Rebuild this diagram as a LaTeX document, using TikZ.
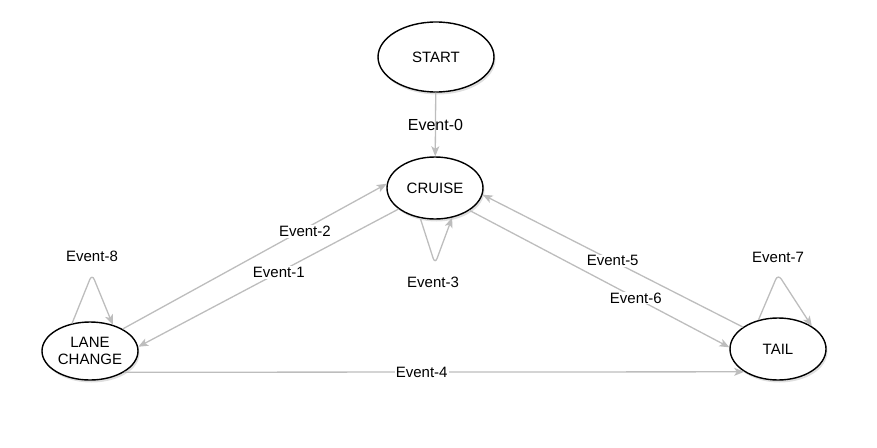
\documentclass[tikz,border=0pt]{standalone}
\usepackage{fontspec}
\setmainfont{Liberation Sans}
\usepackage{color}
\usepackage{tikz}
\definecolor{gray400}{HTML}{BDBDBD}
\usetikzlibrary{arrows.meta,shapes.geometric,shadows}
\tikzstyle{estado}=[ellipse, draw=black, line width=1.4pt, fill=white, inner sep=0pt, minimum width=96pt, minimum height=62pt, align=center, font=\fontsize{15}{17}\selectfont, drop shadow={shadow xshift=1.5pt, shadow yshift=-2.5pt, opacity=0.25}]
\tikzstyle{transicao}=[draw=gray400, line width=1.3pt, -{Stealth[length=10pt, width=8pt, inset=2.5pt]}]
\tikzstyle{rotulo}=[font=\fontsize{15}{17}\selectfont, inner sep=1pt]

\begin{document}
\begin{tikzpicture}[x=1pt, y=-1pt]
				\useasboundingbox (0,0) rectangle (877,447);
				\node[estado, minimum width=116pt, minimum height=70pt] (start) at (436,57) {START};
				\node[estado] (cruise) at (435,188) {CRUISE};
				\node[estado, minimum height=58pt] (lane) at (90,351) {LANE\\CHANGE};
				\node[estado] (tail) at (778,349) {TAIL};
				\coordinate (c3) at (435,264);
				\coordinate (c8) at (92,274);
				\coordinate (c7) at (778,274);
				\path[transicao] (start) --node[rotulo, font=\fontsize{16}{18}\selectfont]{Event-0} (cruise);
				\path[transicao] (lane.34) --node[rotulo, fill=white, pos=0.69, yshift=-3pt]{Event-2} (cruise.175);
				\path[transicao] (cruise.210) --node[rotulo, fill=white, pos=0.46]{Event-1} (lane.5);
				\path[transicao] (tail.148) --node[rotulo, fill=white, pos=0.5]{Event-5} (cruise.-8);
				\path[transicao] (cruise.-33) --node[rotulo, fill=white, pos=0.64]{Event-6} (tail.178);
				\path[transicao] (lane.-32) --node[rotulo, fill=white, pos=0.48]{Event-4} (tail.214);
				\path[transicao, rounded corners=6pt] (cruise.-116) -- (c3) -- (cruise.-60);
				\path[transicao, rounded corners=6pt] (lane.123) -- (c8) -- (lane.49);
				\path[transicao, rounded corners=6pt] (tail.124) -- (c7) -- (tail.34);
				\node[rotulo] (l3) at (433,282) {Event-3};
				\node[rotulo] (l8) at (92,256) {Event-8};
				\node[rotulo] (l7) at (778,257) {Event-7};
			\end{tikzpicture}
\end{document}
